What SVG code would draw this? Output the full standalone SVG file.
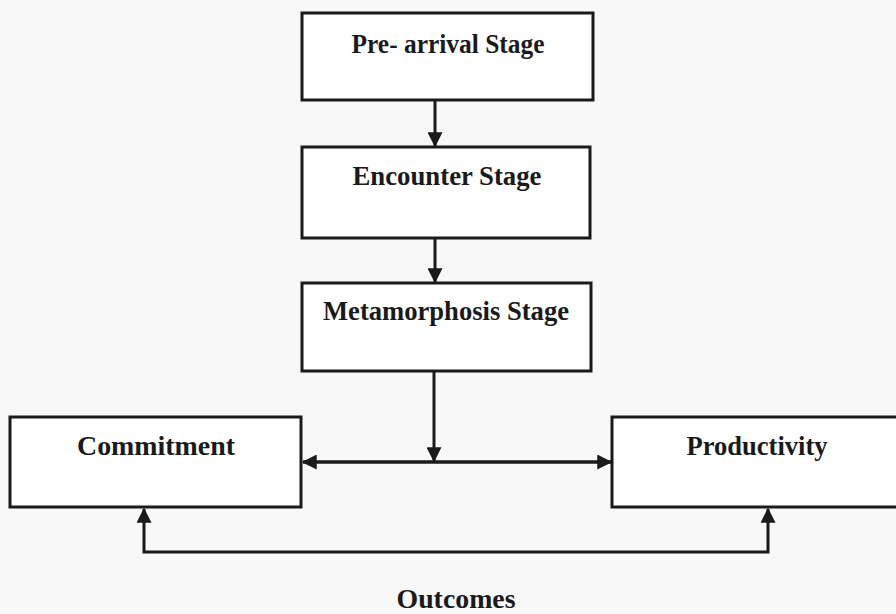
<svg xmlns="http://www.w3.org/2000/svg" width="896" height="614" viewBox="0 0 896 614">
  <style>
    .box { fill: #ffffff; stroke: #1a1a1a; stroke-width: 3; }
    .label { font-family: "Liberation Serif", "DejaVu Serif", serif; font-weight: bold; font-size: 28px; fill: #1a1a1a; text-anchor: middle; }
    .conn { fill: none; stroke: #1a1a1a; stroke-width: 3; }
    .thick { stroke-width: 3.5; }
  </style>
  <defs>
    <marker id="arrow" viewBox="0 0 12 12" refX="11" refY="6" markerWidth="15" markerHeight="15" markerUnits="userSpaceOnUse" orient="auto-start-reverse">
      <path d="M0,0 L12,6 L0,12 z" fill="#1a1a1a"/>
    </marker>
  </defs>

  <rect x="0" y="0" width="896" height="614" fill="#f8f8f8"/>

  <g id="pre-arrival">
    <rect class="box" x="302" y="13" width="291" height="87"/>
    <text class="label" x="448" y="53" textLength="193" lengthAdjust="spacingAndGlyphs">Pre- arrival Stage</text>
  </g>

  <g id="encounter">
    <rect class="box" x="302" y="147" width="288" height="91"/>
    <text class="label" x="447" y="185" textLength="189" lengthAdjust="spacingAndGlyphs">Encounter Stage</text>
  </g>

  <g id="metamorphosis">
    <rect class="box" x="302" y="283" width="289" height="88"/>
    <text class="label" x="446" y="320" textLength="246" lengthAdjust="spacingAndGlyphs">Metamorphosis Stage</text>
  </g>

  <g id="commitment">
    <rect class="box" x="10" y="417" width="291" height="90"/>
    <text class="label" x="156" y="455" textLength="158" lengthAdjust="spacingAndGlyphs">Commitment</text>
  </g>

  <g id="productivity">
    <rect class="box" x="612" y="417" width="290" height="90"/>
    <text class="label" x="757" y="455" textLength="141" lengthAdjust="spacingAndGlyphs">Productivity</text>
  </g>

  <g id="outcomes">
    <text class="label" x="456" y="608" textLength="119" lengthAdjust="spacingAndGlyphs">Outcomes</text>
  </g>

  <g id="connectors">
    <path class="conn" d="M435,101 V146" marker-end="url(#arrow)"/>
    <path class="conn" d="M435,239 V282" marker-end="url(#arrow)"/>
    <path class="conn" d="M434,372 V461" marker-end="url(#arrow)"/>
    <path class="conn thick" d="M303,462 H611" marker-start="url(#arrow)" marker-end="url(#arrow)"/>
    <path class="conn" d="M144,509 V552 H768 V509" marker-start="url(#arrow)" marker-end="url(#arrow)"/>
  </g>
</svg>
